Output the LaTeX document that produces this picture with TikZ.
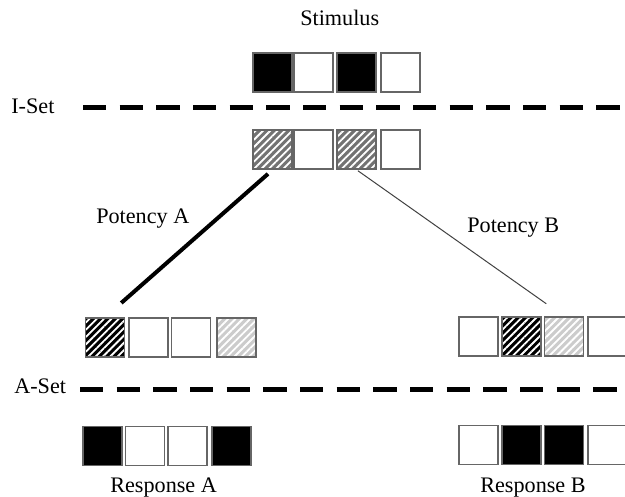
\documentclass[tikz,border=0pt]{standalone}
\usepackage{fontspec}
\setmainfont{Liberation Serif}
\usetikzlibrary{patterns.meta}

\begin{document}
\begin{tikzpicture}[x=0.6pt,y=-0.6pt,
	font=\fontsize{13.3}{16}\selectfont,
	cell/.style={draw=black!60,line width=0.9pt,minimum size=23.4pt,inner sep=0pt},
	blk/.style={cell,fill=black},
	wht/.style={cell,fill=white},
	hatch/.style={cell,preaction={fill=#1},
		pattern={Lines[angle=45,distance=3.1pt,line width=1.1pt]},pattern color=white},
	separator/.style={line width=3pt,dash pattern=on 14pt off 8pt},
	lbl/.style={anchor=base west,inner sep=0pt}]
\useasboundingbox (0,0) rectangle (625,496);

\coordinate (IL) at (83,107);
\coordinate (IR) at (625,107);
\coordinate (AL) at (80,389);
\coordinate (AR) at (625,389);

% stimulus
\node[blk] (s1) at (272.5,72.5) {};
\node[wht] (s2) at (313.5,72.5) {};
\node[blk] (s3) at (356.5,72.5) {};
\node[wht] (s4) at (400.5,72.5) {};

% I-set
\node[hatch=black!55] (i1) at (272.5,149.5) {};
\node[wht] (i2) at (313.5,149.5) {};
\node[hatch=black!55] (i3) at (356.5,149.5) {};
\node[wht] (i4) at (400.5,149.5) {};

% potency A
\node[hatch=black] (a1) at (105,337.5) {};
\node[wht] (a2) at (148.5,337.5) {};
\node[wht] (a3) at (191,337.5) {};
\node[hatch=black!20] (a4) at (236.5,337.5) {};

% potency B
\node[wht] (b1) at (478.5,336.5) {};
\node[hatch=black] (b2) at (521.5,336.5) {};
\node[hatch=black!20] (b3) at (564,336.5) {};
\node[wht] (b4) at (607.5,336.5) {};

% responses
\node[blk] (ra1) at (102.5,446) {};
\node[wht] (ra2) at (145,446) {};
\node[wht] (ra3) at (187.5,446) {};
\node[blk] (ra4) at (231.5,446) {};

\node[wht] (rb1) at (478.5,445) {};
\node[blk] (rb2) at (521.5,445) {};
\node[blk] (rb3) at (564,445) {};
\node[wht] (rb4) at (607.5,445) {};

\draw[separator] (IL)--(IR);
\draw[separator] (AL)--(AR);

\draw[line width=2.4pt,shorten <=3.6pt,shorten >=13pt] (i1.south)--(a1.north);
\draw[line width=0.6pt,black!75,shorten <=1pt,shorten >=13pt] (i3.south)--(b3.north);

\node[lbl] (stim) at (300,26) {Stimulus};
\node[lbl] (iset) at (11,113) {I-Set};
\node[lbl] (aset) at (14,393) {A-Set};
\node[lbl] (potA) at (96,223) {Potency A};
\node[lbl] (potB) at (467,232) {Potency B};
\node[lbl] (respA) at (110,492.5) {Response A};
\node[lbl] (respB) at (480,492) {Response B};

\end{tikzpicture}
\end{document}
